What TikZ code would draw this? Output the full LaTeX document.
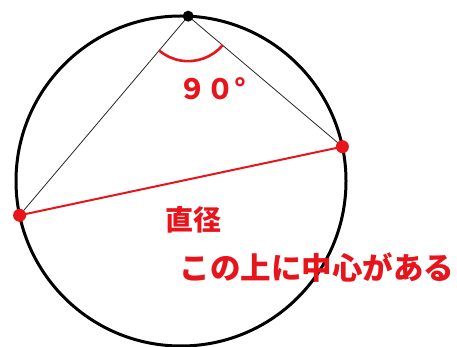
\documentclass[tikz,border=0pt]{standalone}
\usepackage{fontspec}
\newfontfamily\jpfont{Noto Sans CJK JP}
\usetikzlibrary{calc}
\definecolor{angred}{HTML}{E8141C}

\begin{document}
\begin{tikzpicture}[x=1pt, y=-1pt,
  rim/.style={line width=3pt, black},
  chord/.style={line width=0.8pt, black!85},
  diam/.style={line width=2pt, angred},
  dot/.style={circle, fill=#1, inner sep=0pt, minimum size=13pt},
  lbl/.style={text=angred, font=\jpfont\bfseries\fontsize{28}{30}\selectfont, inner sep=0pt}]
\useasboundingbox (0,0) rectangle (457,347);

% Circle and points on it (y runs downwards)
\coordinate (O) at (181,181);
\draw[rim] (O) circle (165);
\coordinate (P) at ($(O)+(-87.5:165)$);
\coordinate (A) at ($(O)+(168:165)$);
\coordinate (B) at ($(O)+(-12:165)$);

% Chords and diameter
\draw[chord] (P) -- (A);
\draw[chord] (P) -- (B);
\draw[diam] (A) -- (B);

% Right-angle arc at P
\draw[angred, line width=2.6pt] ($(P)+(40.2:45)$) arc[start angle=40.2, end angle=130.3, radius=45];

\node[dot=black, minimum size=11pt] (Pdot) at (P) {};
\node[dot=angred] (Adot) at (A) {};
\node[dot=angred] (Bdot) at (B) {};

% Labels
\node[lbl] (ang) at (212,89) {９０°};
\node[lbl] (dia) at (193,220) {直径};
\node[lbl, font=\jpfont\bfseries\fontsize{30.5}{32}\selectfont] (ctr) at (317,268) {この上に中心がある};

\end{tikzpicture}
\end{document}
